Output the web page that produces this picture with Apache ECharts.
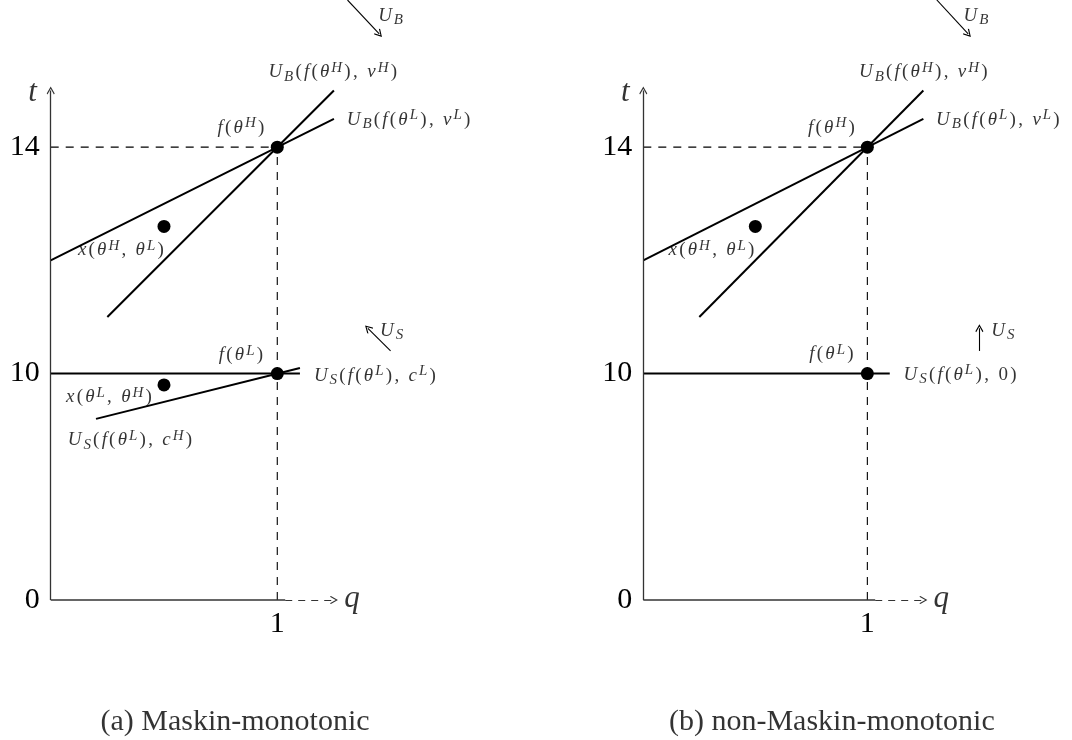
<!DOCTYPE html>
<html>
<head>
<meta charset="utf-8">
<script src="https://cdn.jsdelivr.net/npm/echarts@6/dist/echarts.min.js"></script>
<style>html,body{margin:0;padding:0;background:#fff}#c{width:1072px;height:740px}</style>
</head>
<body>
<div id="c"></div>
<script>
// ---- tick labels (drawing units -> shown text) ----
const yTickPos = [0, 2, 4];
const yTickLabels = ['0', '10', '14'];
const xTickPos = [2];
const xTickLabels = ['1'];

// ---- panel (a) Maskin-monotonic ----
const aBuyerHigh = [[0.5, 2.5], [2.5, 4.5]];
const aBuyerLow = [[0, 3], [2.5, 4.25]];
const aSellerLow = [[0, 2], [2.2, 2]];
const aSellerHigh = [[0.4, 1.6], [2.2, 2.05]];
const aDots = [[2, 4], [1, 3.3], [2, 2], [1, 1.9]];
const aArrowUB = [[2.62, 5.3], [2.9, 5.0]];
const aArrowUS = [[3.0, 2.2], [2.8, 2.4]];
const aLabels = [
  [2.49, 4.66, 'U_{B}(f(θ^{H}), v^{H})', 'inside'],
  [2.6, 4.24, 'U_{B}(f(θ^{L}), v^{L})', 'right'],
  [1.68, 4.17, 'f(θ^{H})', 'inside'],
  [0.62, 3.09, 'x(θ^{H}, θ^{L})', 'inside'],
  [3.0, 5.16, 'U_{B}', 'inside'],
  [3.01, 2.38, 'U_{S}', 'inside'],
  [1.68, 2.16, 'f(θ^{L})', 'inside'],
  [2.31, 1.98, 'U_{S}(f(θ^{L}), c^{L})', 'right'],
  [0.515, 1.79, 'x(θ^{L}, θ^{H})', 'inside'],
  [0.70, 1.41, 'U_{S}(f(θ^{L}), c^{H})', 'inside']
];
const aCaption = [1.627, -1.077, '(a) Maskin-monotonic'];

// ---- panel (b) non-Maskin-monotonic ----
const bBuyerHigh = [[0.5, 2.5], [2.5, 4.5]];
const bBuyerLow = [[0, 3], [2.5, 4.25]];
const bSeller = [[0, 2], [2.2, 2]];
const bDots = [[2, 4], [1, 3.3], [2, 2]];
const bArrowUB = [[2.62, 5.3], [2.9, 5.0]];
const bArrowUS = [[3.0, 2.2], [3.0, 2.4]];
const bLabels = [
  [2.50, 4.66, 'U_{B}(f(θ^{H}), v^{H})', 'inside'],
  [2.6, 4.24, 'U_{B}(f(θ^{L}), v^{L})', 'right'],
  [1.68, 4.17, 'f(θ^{H})', 'inside'],
  [0.61, 3.09, 'x(θ^{H}, θ^{L})', 'inside'],
  [2.97, 5.16, 'U_{B}', 'inside'],
  [3.21, 2.38, 'U_{S}', 'inside'],
  [1.68, 2.17, 'f(θ^{L})', 'inside'],
  [2.31, 1.99, 'U_{S}(f(θ^{L}), 0)', 'right']
];
const bCaption = [1.683, -1.077, '(b) non-Maskin-monotonic'];

// ---- axes geometry (drawing units) ----
const yAxisSeg = [[0, 0], [0, 4.5]];
const xAxisSolid = [[0, 0], [2.07, 0]];
const xAxisDashed = [[2.07, 0], [2.5, 0]];
const guideH = [[0, 4], [2, 4]];
const guideV = [[2, 0], [2, 4]];
const axisNames = [[-0.16, 4.48, 't'], [2.66, 0.01, 'q']];

const SERIF = '"Liberation Serif", "DejaVu Serif", serif';
const ARROW = 'path://M5,0 L10,7 L9,8 L5,2.2 L1,8 L0,7 Z';

function toRich(s) {
  let out = '', i = 0;
  while (i < s.length) {
    const c = s[i];
    if ((c === '_' || c === '^') && s[i + 1] === '{') {
      const j = s.indexOf('}', i);
      out += '{' + (c === '_' ? 'sub' : 'sup') + '|' + s.slice(i + 2, j) + '}';
      i = j + 1;
    } else {
      out += '{' + (/[A-Za-zθ]/.test(c) ? 'it' : 'rm') + '|' + c + '}';
      i++;
    }
  }
  return out;
}
const LBL = 19, SUP = 15;
const richStyles = {
  it: { fontFamily: SERIF, fontStyle: 'italic', fontSize: LBL, lineHeight: 24, color: '#000', verticalAlign: 'middle', padding: [0, 1] },
  rm: { fontFamily: SERIF, fontSize: LBL, lineHeight: 24, color: '#000', verticalAlign: 'middle', padding: [0, 1.2] },
  sup: { fontFamily: SERIF, fontStyle: 'italic', fontSize: SUP, lineHeight: 15, color: '#000', verticalAlign: 'top', padding: [0, 1] },
  sub: { fontFamily: SERIF, fontStyle: 'italic', fontSize: SUP, lineHeight: 15, color: '#000', verticalAlign: 'bottom', padding: [0, 1] }
};

function seg(idx, pts, style) {
  return { type: 'line', xAxisIndex: idx, yAxisIndex: idx, data: pts, symbol: 'none', clip: false, silent: true,
    lineStyle: style, z: 3 };
}
function arrowSeg(idx, pts, style) {
  return { type: 'lines', coordinateSystem: 'cartesian2d', xAxisIndex: idx, yAxisIndex: idx, silent: true,
    symbol: ['none', ARROW], symbolSize: 8, clip: false,
    lineStyle: Object.assign({ opacity: 1, curveness: 0 }, style),
    data: [{ coords: pts }], z: 4 };
}

function panel(idx, lines, dots, arrows, labels, caption) {
  const thick = { color: '#000', width: 2 };
  const axisStyle = { color: '#333', width: 1.3 };
  const dash = { color: '#000', width: 1.1, type: [8, 7] };
  const s = [];
  s.push(seg(idx, guideH, dash));
  s.push(seg(idx, guideV, dash));
  s.push(arrowSeg(idx, yAxisSeg, axisStyle));
  s.push(seg(idx, xAxisSolid, axisStyle));
  s.push(arrowSeg(idx, xAxisDashed, { color: '#333', width: 1.1, type: [7, 6] }));
  lines.forEach(l => s.push(seg(idx, l, thick)));
  arrows.forEach(a => s.push(arrowSeg(idx, a, { color: '#000', width: 1.1 })));
  s.push({ type: 'scatter', xAxisIndex: idx, yAxisIndex: idx, data: dots, symbolSize: 13,
    itemStyle: { color: '#000', opacity: 1 }, silent: true, z: 5 });
  const lab = labels.map(l => ({ value: [l[0], l[1]],
    label: { show: true, position: l[3], distance: 0, formatter: toRich(l[2]), rich: richStyles } }));
  axisNames.forEach(n => lab.push({ value: [n[0], n[1]],
    label: { show: true, position: 'inside', formatter: n[2], fontFamily: SERIF, fontStyle: 'italic', fontSize: 31, color: '#000' } }));
  lab.push({ value: [caption[0], caption[1]],
    label: { show: true, position: 'inside', formatter: caption[2], fontFamily: SERIF, fontSize: 30, color: '#000' } });
  s.push({ type: 'scatter', xAxisIndex: idx, yAxisIndex: idx, data: lab, symbolSize: 1, silent: true, z: 6,
    itemStyle: { color: 'rgba(0,0,0,0)' }, clip: false });
  return s;
}

const chart = echarts.init(document.getElementById('c'), null, { renderer: 'canvas' });
function xAx(i) {
  return { type: 'value', gridIndex: i, min: 0, max: 3.8, interval: 2,
    axisLine: { show: false }, axisTick: { show: false }, splitLine: { show: false },
    axisLabel: { margin: 9, fontFamily: SERIF, fontSize: 30, color: '#000',
      formatter: v => { const k = xTickPos.indexOf(v); return k >= 0 ? xTickLabels[k] : ''; } } };
}
function yAx(i) {
  return { type: 'value', gridIndex: i, min: 0, max: 5.3, interval: 2,
    axisLine: { show: false }, axisTick: { show: false }, splitLine: { show: false },
    axisLabel: { margin: 11, fontFamily: SERIF, fontSize: 30, color: '#000', showMaxLabel: false,
      formatter: v => { const k = yTickPos.indexOf(v); return k >= 0 ? yTickLabels[k] : ''; } } };
}
chart.setOption({
  animation: false,
  backgroundColor: '#fff',
  grid: [
    { left: 50.7, top: 0, width: 430.5, height: 600 },
    { left: 643.3, top: 0, width: 430.5, height: 600 }
  ],
  xAxis: [xAx(0), xAx(1)],
  yAxis: [yAx(0), yAx(1)],
  series: [].concat(
    panel(0, [aBuyerHigh, aBuyerLow, aSellerLow, aSellerHigh], aDots, [aArrowUB, aArrowUS], aLabels, aCaption),
    panel(1, [bBuyerHigh, bBuyerLow, bSeller], bDots, [bArrowUB, bArrowUS], bLabels, bCaption)
  )
});
</script>
</body>
</html>
